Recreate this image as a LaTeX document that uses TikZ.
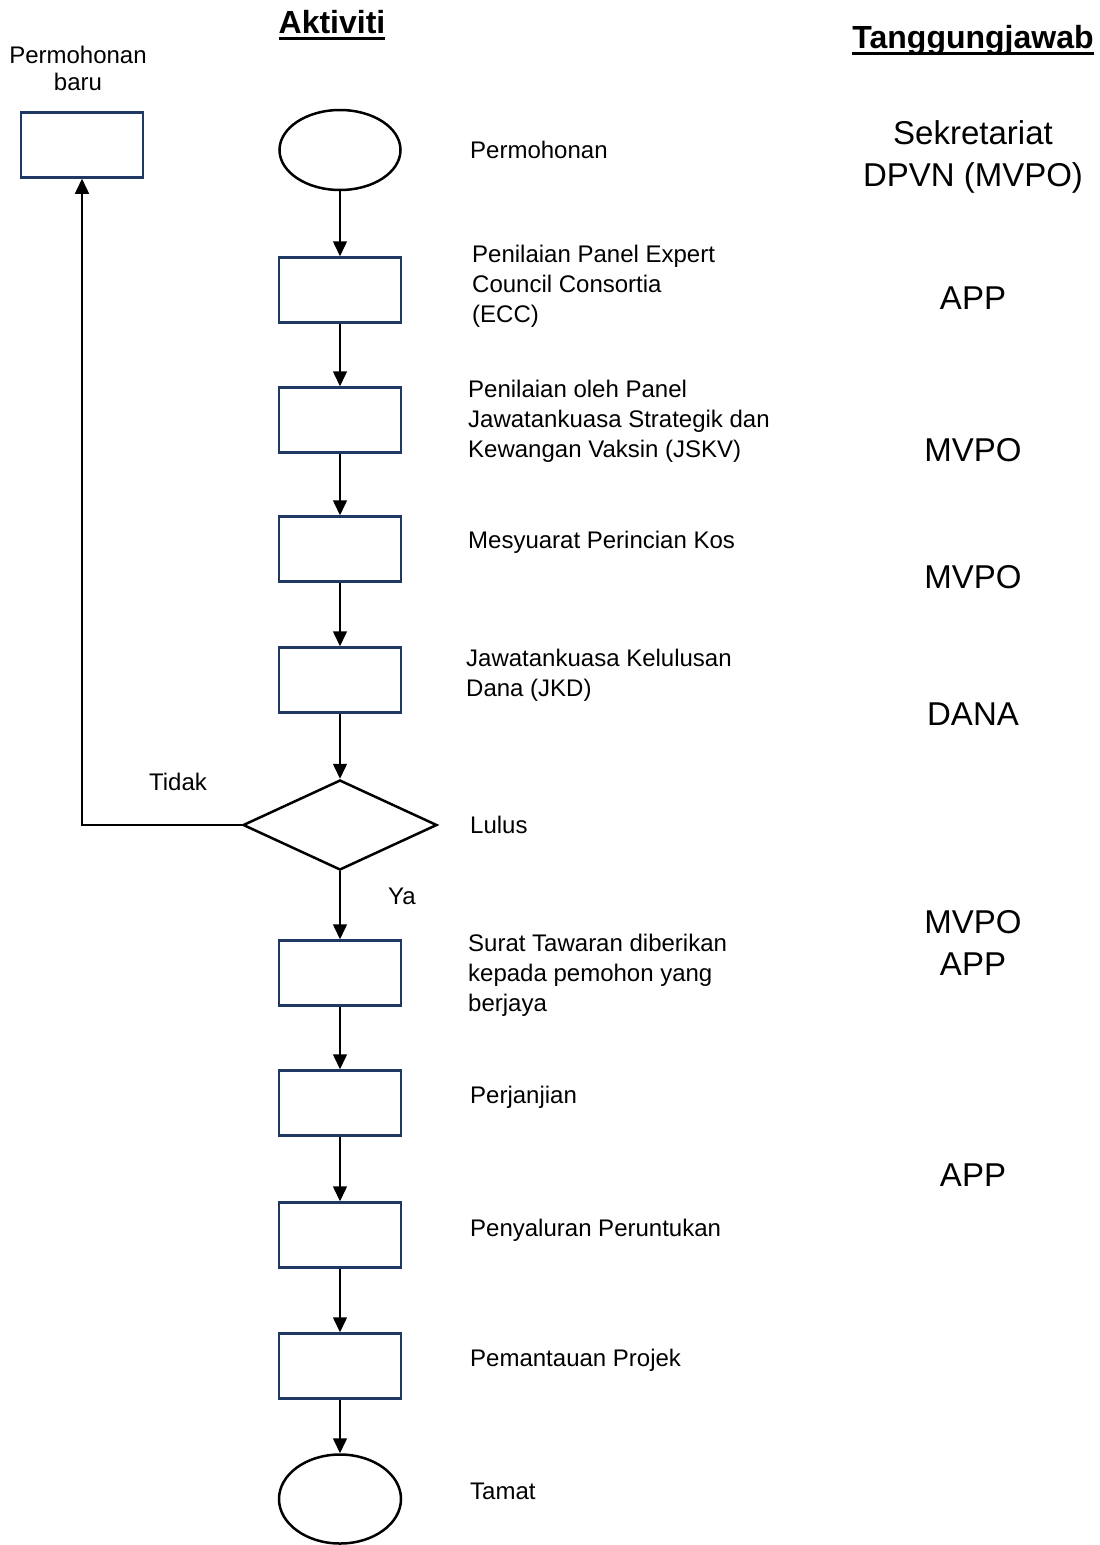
\documentclass[tikz,border=0pt]{standalone}
\usepackage{fontspec}
\setmainfont{Liberation Sans}
\usetikzlibrary{shapes.geometric,arrows.meta}
\definecolor{boxblue}{HTML}{1F3864}
\newcommand{\headul}[1]{\setbox0\hbox{#1}\rlap{\rule[-7pt]{\wd0}{3.5pt}}\box0}

\begin{document}
\begin{tikzpicture}[x=1pt,y=-1pt,
  box/.style={draw=boxblue,line width=2.5pt,minimum width=122pt,minimum height=65pt,inner sep=0pt},
  term/.style={ellipse,draw,line width=2.5pt,minimum width=121pt,minimum height=80pt,inner sep=0pt},
  choice/.style={diamond,draw,line width=2.5pt,minimum width=194pt,minimum height=90pt,inner sep=0pt},
  desc/.style={anchor=west,align=left,inner sep=0pt,font=\fontsize{24}{30}\selectfont},
  resp/.style={align=center,inner sep=0pt,font=\fontsize{33}{42}\selectfont},
  head/.style={anchor=base,inner sep=0pt,font=\fontsize{32}{38}\selectfont\bfseries},
  flow/.style={-{Triangle[length=15pt,width=14pt]},line width=1.5pt}]
\useasboundingbox (0,0) rectangle (1100,1545);
\node[head] (aktiviti) at (332,33) {\headul{Aktiviti}};
\node[head] (tanggung) at (973,48) {\headul{Tanggungjawab}};
\node[align=center,inner sep=0pt,font=\fontsize{24}{27}\selectfont] (baru-lbl) at (78,68) {Permohonan\\baru};
\node[box] (baru) at (82,145) {};
\node[term] (mula) at (340,150) {};
\node[box] (b1) at (340,290) {};
\node[box] (b2) at (340,420) {};
\node[box] (b3) at (340,549) {};
\node[box] (b4) at (340,680) {};
\node[choice] (lulus) at (340,825) {};
\node[box] (b5) at (340,973) {};
\node[box] (b6) at (340,1103) {};
\node[box] (b7) at (340,1235) {};
\node[box] (b8) at (340,1366) {};
\node[term,minimum width=122pt,minimum height=89pt] (tamat) at (340,1499) {};
% aktiviti
\node[desc] (mula-lbl) at (470,150) {Permohonan};
\node[desc] (b1-lbl) at (472,286) {Penilaian Panel Expert\\Council Consortia\\(ECC)};
\node[desc] (b2-lbl) at (468,421) {Penilaian oleh Panel\\Jawatankuasa Strategik dan\\Kewangan Vaksin (JSKV)};
\node[desc] (b3-lbl) at (468,542) {Mesyuarat Perincian Kos};
\node[desc] (b4-lbl) at (466,675) {Jawatankuasa Kelulusan\\Dana (JKD)};
\node[desc] (lulus-lbl) at (470,825) {Lulus};
\node[desc] (b5-lbl) at (468,975) {Surat Tawaran diberikan\\kepada pemohon yang\\berjaya};
\node[desc] (b6-lbl) at (470,1097) {Perjanjian};
\node[desc] (b7-lbl) at (470,1230) {Penyaluran Peruntukan};
\node[desc] (b8-lbl) at (470,1360) {Pemantauan Projek};
\node[desc] (tamat-lbl) at (470,1491) {Tamat};
\node[desc,anchor=center] (tidak) at (178,782) {Tidak};
\node[desc,anchor=center] (ya) at (402,896) {Ya};
% tanggungjawab
\node[resp] (r1) at (973,157) {Sekretariat\\DPVN (MVPO)};
\node[resp] (r2) at (973,298) {APP};
\node[resp] (r3) at (973,450) {MVPO};
\node[resp] (r4) at (973,577) {MVPO};
\node[resp] (r5) at (973,714) {DANA};
\node[resp] (r6) at (973,943) {MVPO\\APP};
\node[resp] (r7) at (973,1175) {APP};
% aliran
\path[flow] (mula) edge (b1);
\path[flow] (b1) edge (b2);
\path[flow] (b2) edge (b3);
\path[flow] (b3) edge (b4);
\path[flow] (b4) edge (lulus);
\path[flow] (lulus) edge (b5);
\path[flow] (b5) edge (b6);
\path[flow] (b6) edge (b7);
\path[flow] (b7) edge (b8);
\path[flow] (b8) edge (tamat);
\draw[flow] (lulus.west) -| (baru.south);
\end{tikzpicture}
\end{document}
